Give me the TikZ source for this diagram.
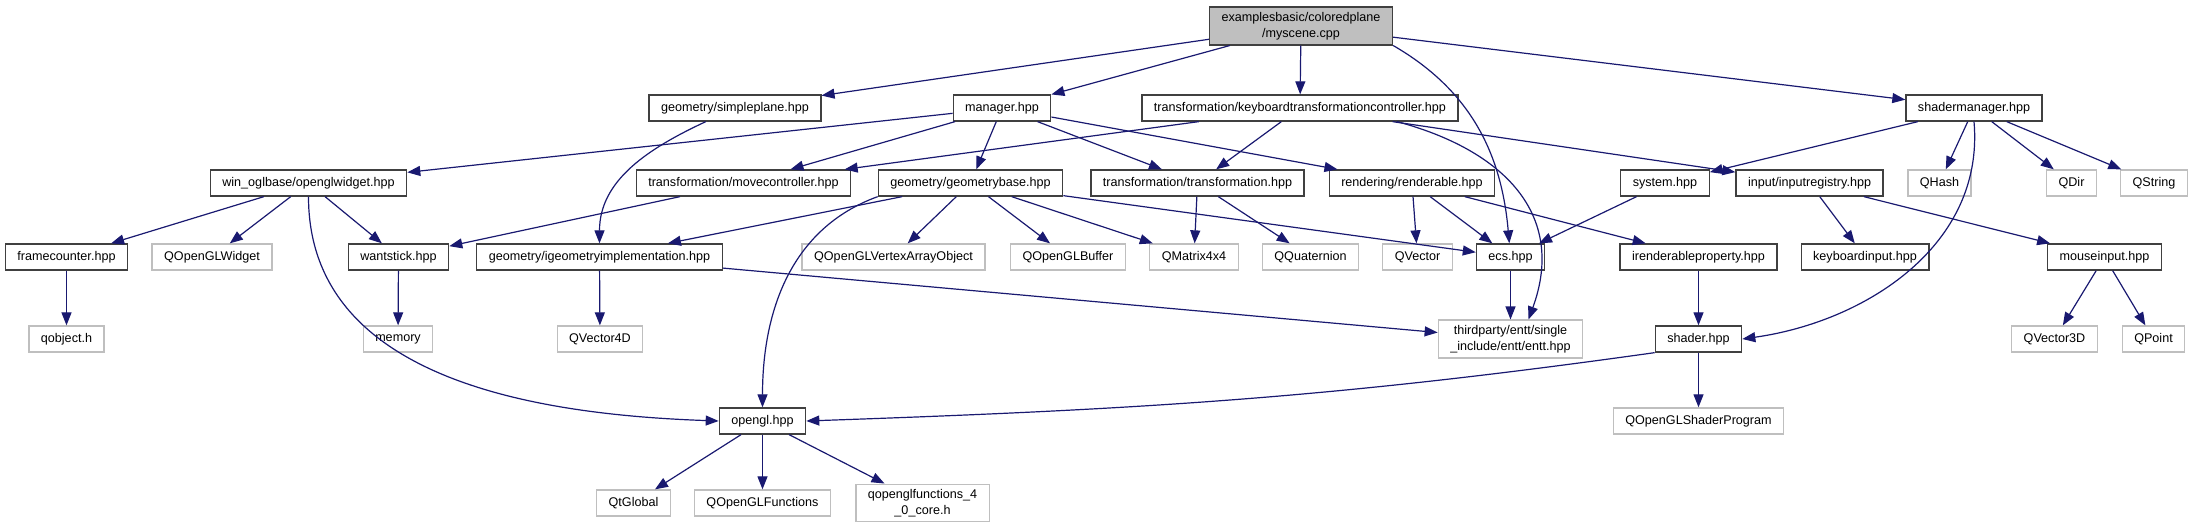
\documentclass[tikz,border=0pt]{standalone}
\usepackage{fontspec}
\setmainfont{Liberation Sans}
\usepackage{tikz}
\usetikzlibrary{arrows.meta}
\usepackage{xcolor}
\definecolor{ink}{RGB}{64,64,64}
\definecolor{cExt}{RGB}{191,191,191}
\definecolor{cEdge}{RGB}{25,25,112}
\newcommand{\gfont}{\fontsize{12.6}{16}\selectfont}
\tikzset{
  file/.style={draw=ink,line width=1.3pt,fill=white,inner xsep=12pt,inner ysep=5pt,
    minimum height=26pt,font=\gfont,align=center},
  ext/.style={file,draw=cExt},
  main/.style={file,fill=cExt},
  ar/.style={-{Triangle[length=13pt,width=10pt]},cEdge,line width=1.2pt},
}

\begin{document}
\begin{tikzpicture}[x=1pt,y=-1pt]
  \useasboundingbox (0,0) rectangle (2193,529);
  \node[main] (scene) at (1301,26) {examplesbasic/coloredplane\\/myscene.cpp};
  \node[file] (simpleplane) at (735,108) {geometry/simpleplane.hpp};
  \node[file] (manager) at (1002,108) {manager.hpp};
  \node[file] (kbctrl) at (1300,108) {transformation/keyboardtransformationcontroller.hpp};
  \node[file] (shadermgr) at (1974,108) {shadermanager.hpp};
  \node[file] (glwidget) at (308.5,183) {win\_oglbase/openglwidget.hpp};
  \node[file] (movectrl) at (743.5,183) {transformation/movecontroller.hpp};
  \node[file] (geombase) at (970.5,183) {geometry/geometrybase.hpp};
  \node[file] (transf) at (1197.5,183) {transformation/transformation.hpp};
  \node[file] (renderable) at (1412,183) {rendering/renderable.hpp};
  \node[file] (system) at (1665,183) {system.hpp};
  \node[file] (inputreg) at (1809.5,183) {input/inputregistry.hpp};
  \node[ext] (qhash) at (1939.5,183) {QHash};
  \node[ext] (qdir) at (2071.5,183) {QDir};
  \node[ext] (qstring) at (2154,183) {QString};
  \node[file] (framecnt) at (66.5,257) {framecounter.hpp};
  \node[ext] (qglwidget) at (212,257) {QOpenGLWidget};
  \node[file] (wantstick) at (398.5,257) {wantstick.hpp};
  \node[file] (igeomimpl) at (599.5,257) {geometry/igeometryimplementation.hpp};
  \node[ext] (qvao) at (893.5,257) {QOpenGLVertexArrayObject};
  \node[ext] (qbuffer) at (1068,257) {QOpenGLBuffer};
  \node[ext] (qmatrix) at (1194,257) {QMatrix4x4};
  \node[ext] (qquat) at (1310.5,257) {QQuaternion};
  \node[ext] (qvector) at (1417.5,257) {QVector};
  \node[file] (ecs) at (1510.5,257) {ecs.hpp};
  \node[file] (irendprop) at (1698.5,257) {irenderableproperty.hpp};
  \node[file] (kbinput) at (1865,257) {keyboardinput.hpp};
  \node[file] (mouseinput) at (2104.5,257) {mouseinput.hpp};
  \node[ext] (qobject) at (66.5,339) {qobject.h};
  \node[ext] (memory) at (398,339) {memory};
  \node[ext] (qvecfour) at (600,339) {QVector4D};
  \node[ext] (entt) at (1510.5,339) {thirdparty/entt/single\\\_include/entt/entt.hpp};
  \node[file] (shader) at (1698.5,339) {shader.hpp};
  \node[ext] (qvecthree) at (2054.5,339) {QVector3D};
  \node[ext] (qpoint) at (2153.5,339) {QPoint};
  \node[file] (opengl) at (762.5,421) {opengl.hpp};
  \node[ext] (qshaderprog) at (1698.5,421) {QOpenGLShaderProgram};
  \node[ext] (qtglobal) at (633.5,503) {QtGlobal};
  \node[ext] (qglfuncs) at (762.5,503) {QOpenGLFunctions};
  \node[ext] (qglfuncsfour) at (922.5,503) {qopenglfunctions\_4\\\_0\_core.h};
  \draw[ar] (scene) -- (simpleplane);
  \draw[ar] (scene) -- (manager);
  \draw[ar] (scene) -- (kbctrl);
  \draw[ar] (scene) -- (shadermgr);
  \draw[ar] (scene.south east) to[out=-30,in=95] (ecs);
  \draw[ar] (simpleplane) to[out=-155,in=90] (igeomimpl);
  \draw[ar] (manager) -- (glwidget);
  \draw[ar] (manager) -- (movectrl);
  \draw[ar] (manager) -- (geombase);
  \draw[ar] (manager) -- (transf);
  \draw[ar] (manager) -- (renderable);
  \draw[ar] (kbctrl) -- (movectrl);
  \draw[ar] (kbctrl) -- (transf);
  \draw[ar] (kbctrl) -- (inputreg);
  \draw[ar] (kbctrl.-8) to[out=-15,in=70,looseness=1.2] ([xshift=18pt]entt.north);
  \draw[ar] (shadermgr) -- (system);
  \draw[ar] (shadermgr) -- (qhash);
  \draw[ar] (shadermgr) -- (qdir);
  \draw[ar] (shadermgr) -- (qstring);
  \draw[ar] (shadermgr.south) to[out=-85,in=8] (shader.east);
  \draw[ar] (glwidget) -- (framecnt);
  \draw[ar] (glwidget) -- (qglwidget);
  \draw[ar] (glwidget) -- (wantstick);
  \draw[ar] (glwidget.south) to[out=-90,in=178] (opengl.west);
  \draw[ar] (movectrl) -- (wantstick);
  \draw[ar] (geombase) -- (igeomimpl);
  \draw[ar] (geombase.south west) to[out=-160,in=90] (opengl);
  \draw[ar] (geombase) -- (qvao);
  \draw[ar] (geombase) -- (qbuffer);
  \draw[ar] (geombase) -- (qmatrix);
  \draw[ar] (geombase) -- (ecs);
  \draw[ar] (transf) -- (qmatrix);
  \draw[ar] (transf) -- (qquat);
  \draw[ar] (renderable) -- (qvector);
  \draw[ar] (renderable) -- (ecs);
  \draw[ar] (renderable) -- (irendprop);
  \draw[ar] (system) -- (ecs);
  \draw[ar] (inputreg) -- (kbinput);
  \draw[ar] (inputreg) -- (mouseinput);
  \draw[ar] (framecnt) -- (qobject);
  \draw[ar] (wantstick) -- (memory);
  \draw[ar] (igeomimpl) -- (qvecfour);
  \draw[ar] (igeomimpl) -- (entt);
  \draw[ar] (ecs) -- (entt);
  \draw[ar] (irendprop) -- (shader);
  \draw[ar] (mouseinput) -- (qvecthree);
  \draw[ar] (mouseinput) -- (qpoint);
  \draw[ar] (shader.south west) to[out=-172,in=2] (opengl.east);
  \draw[ar] (shader) -- (qshaderprog);
  \draw[ar] (opengl) -- (qtglobal);
  \draw[ar] (opengl) -- (qglfuncs);
  \draw[ar] (opengl) -- (qglfuncsfour);
\end{tikzpicture}
\end{document}
